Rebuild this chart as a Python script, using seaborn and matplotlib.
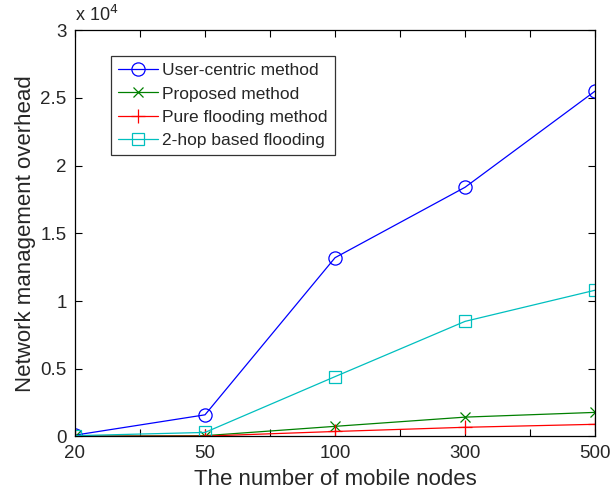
import matplotlib
matplotlib.use("Agg")
import matplotlib.pyplot as plt
from matplotlib.ticker import FixedLocator, FuncFormatter
import seaborn as sns
import pandas as pd

# Data
nodes = ["20", "50", "100", "300", "500"]
user_centric = [100, 1600, 13200, 18400, 25500]
proposed = [20, 60, 750, 1430, 1780]
pure_flooding = [10, 30, 370, 680, 900]
two_hop = [60, 300, 4420, 8500, 10800]

series = [
    ("User-centric method", user_centric, (0, 0, 1), "o", 9.5),
    ("Proposed method", proposed, (0, 0.5, 0), "x", 7),
    ("Pure flooding method", pure_flooding, (1, 0, 0), "+", 10),
    ("2-hop based flooding", two_hop, (0, 0.75, 0.75), "s", 8),
]

sns.set_theme(style="ticks")
plt.rcParams["font.family"] = ["Liberation Sans", "DejaVu Sans"]

fig = plt.figure(figsize=(6.11, 4.94), dpi=100)
ax = fig.add_axes([0.1227, 0.1164, 0.974 - 0.1227, 0.939 - 0.1164])

pos = list(range(len(nodes)))
for name, vals, color, mk, ms in series:
    df = pd.DataFrame({"x": pos, "y": vals})
    sns.lineplot(data=df, x="x", y="y", ax=ax, color=color, linewidth=0.9,
                 marker=mk, markersize=ms, markerfacecolor="none",
                 markeredgecolor=color, markeredgewidth=0.9, label=name)

ax.set_xlim(0, 4)
ax.set_ylim(0, 30000)
ax.xaxis.set_major_locator(FixedLocator(pos))
ax.xaxis.set_minor_locator(FixedLocator([0.5, 1.5, 2.5, 3.5]))
ax.set_xticklabels(nodes)
ax.yaxis.set_major_locator(FixedLocator([i * 5000 for i in range(7)]))
ax.yaxis.set_major_formatter(FuncFormatter(lambda v, p: "%g" % (v / 1e4)))

ax.tick_params(axis="both", which="both", direction="in", top=True, right=True,
               labelsize=13.5, width=0.8, color="black", pad=6)
ax.tick_params(axis="both", which="major", length=5)
ax.tick_params(axis="x", which="minor", length=5)
for s in ax.spines.values():
    s.set_linewidth(0.9)
    s.set_color("black")

ax.set_xlabel("The number of mobile nodes", fontsize=16, labelpad=5)
ax.set_ylabel("Network management overhead", fontsize=16, labelpad=3)
ax.text(0.0, 1.012, r"x 10$^{4}$", transform=ax.transAxes, fontsize=13,
        ha="left", va="bottom")

leg = ax.legend(loc="upper left", bbox_to_anchor=(0.0695, 0.936), fontsize=12.5,
                frameon=True, fancybox=False, edgecolor="black",
                handlelength=2.3, borderpad=0.4, labelspacing=0.47,
                handletextpad=0.25, borderaxespad=0)
leg.get_frame().set_linewidth(0.9)

fig.savefig("out.png", dpi=100)
